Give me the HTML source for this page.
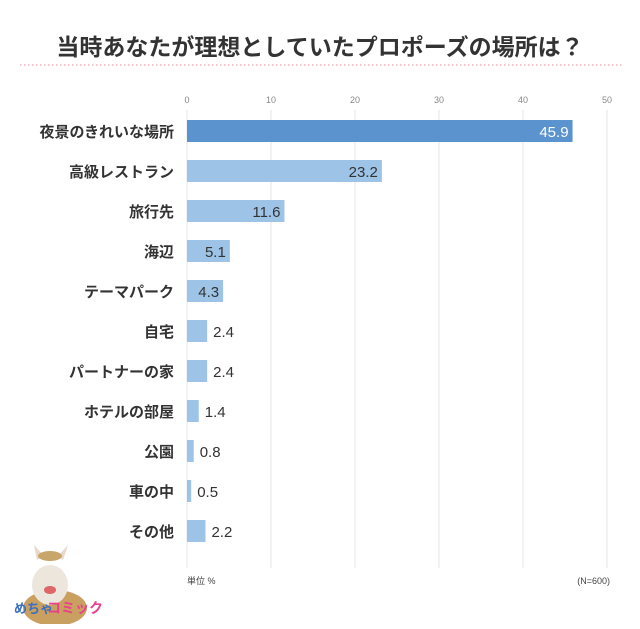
<!DOCTYPE html>
<html><head><meta charset="utf-8"><style>
body{margin:0;background:#fff;width:640px;height:624px;overflow:hidden;font-family:"Liberation Sans","Noto Sans CJK JP",sans-serif}
</style></head><body>
<svg id="c" width="640" height="624" xmlns="http://www.w3.org/2000/svg">
<text x="320" y="55" text-anchor="middle" font-size="23" font-weight="bold" fill="#333" font-family="Liberation Sans,Noto Sans CJK JP,sans-serif">当時あなたが理想としていたプロポーズの場所は？</text>
<line x1="20" y1="65" x2="622" y2="65" stroke="#f0a0b0" stroke-width="1.2" stroke-dasharray="1.5,2.5"/>
<g id="grid"></g><g id="bars"></g>
<text x="187" y="584" font-size="9" fill="#444">単位 %</text>
<text x="610" y="584" font-size="9" fill="#444" text-anchor="end">(N=600)</text>
<g>
<ellipse cx="55" cy="608" rx="32" ry="18" fill="#c9a060"/>
<ellipse cx="50" cy="585" rx="18" ry="20" fill="#ece6dc"/>
<path d="M37 560 L34 545 L44 556 Z M63 560 L68 545 L58 556 Z" fill="#e8d8cc"/>
<ellipse cx="50" cy="556" rx="12" ry="5" fill="#c8a66a"/>
<ellipse cx="50" cy="590" rx="6" ry="4" fill="#d66"/>
<text x="14" y="613" font-size="13" font-weight="bold" fill="#3a6fc0">めちゃ</text>
<text x="47" y="613" font-size="14" font-weight="bold" fill="#e8408a">コミック</text>
</g>
</svg>
<script>
const categories=["夜景のきれいな場所","高級レストラン","旅行先","海辺","テーマパーク","自宅","パートナーの家","ホテルの部屋","公園","車の中","その他"];
const values=[45.9,23.2,11.6,5.1,4.3,2.4,2.4,1.4,0.8,0.5,2.2];
const ticks=[0,10,20,30,40,50];
const NS="http://www.w3.org/2000/svg";
const x0=187,x1=607,top0=120,step=40,bh=22;
const xs=v=>x0+(v-50*0)*(x1-x0)/50;
const ys=i=>top0+i*step;
function mk(t,a,p){const e=document.createElementNS(NS,t);for(const k in a)e.setAttribute(k,a[k]);p.appendChild(e);return e;}
const g=document.getElementById('grid'),b=document.getElementById('bars');
ticks.forEach(t=>{
 const l=mk('line',{x1:xs(t),x2:xs(t),y1:110,y2:568,stroke:'#e4e4e4','stroke-width':1},g);
 
 
 const tx=mk('text',{x:xs(t),y:103,'text-anchor':'middle','font-size':9,fill:'#888'},g);tx.textContent=t;
 
 
});
categories.forEach((c,i)=>{
 const y=ys(i);
 const r=mk('rect',{x:x0,y:y,width:xs(values[i])-x0,height:bh,fill:i==0?'#5b93cf':'#9dc3e6'},b);
 
 
 const lb=mk('text',{x:174,y:y+bh/2+6,'text-anchor':'end','font-size':15,'font-weight':'bold',fill:'#333'},b);lb.textContent=c;
 
 
 const inside=values[i]>=4;
 const vx=inside?xs(values[i])-4:xs(values[i])+6;
 const vt=mk('text',{x:vx,y:y+bh/2+6,'text-anchor':inside?'end':'start','font-size':15,fill:i==0?'#fff':'#333'},b);vt.textContent=values[i].toFixed(1);
 
 
});
</script>
</body></html>
